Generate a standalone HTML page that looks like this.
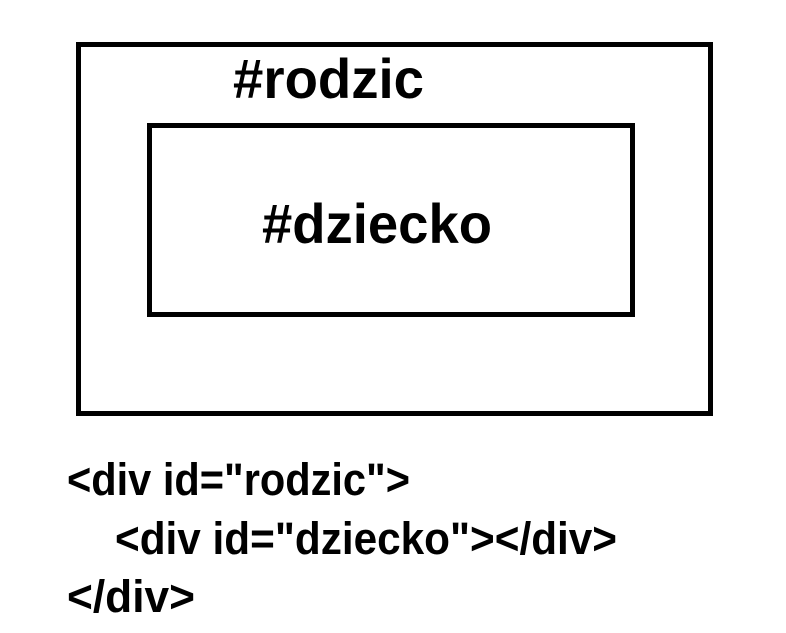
<!DOCTYPE html>
<html><head><meta charset="utf-8"><style>
html,body{margin:0;padding:0;background:#fff;width:786px;height:633px;overflow:hidden}
svg{display:block}
text{font-family:"Liberation Sans",sans-serif;font-weight:bold;fill:#000}
</style></head><body>
<svg width="786" height="633" viewBox="0 0 786 633">
<rect x="78.5" y="44.5" width="632" height="369" fill="none" stroke="#000" stroke-width="5"/>
<rect x="149.5" y="125.5" width="483" height="189" fill="none" stroke="#000" stroke-width="5"/>
<text x="233" y="98" font-size="56" textLength="191" lengthAdjust="spacingAndGlyphs">#rodzic</text>
<text x="262" y="243" font-size="56" textLength="230" lengthAdjust="spacingAndGlyphs">#dziecko</text>
<text x="67" y="495" font-size="45" textLength="343" lengthAdjust="spacingAndGlyphs">&lt;div id="rodzic"&gt;</text>
<text x="115" y="554" font-size="45" textLength="502" lengthAdjust="spacingAndGlyphs">&lt;div id="dziecko"&gt;&lt;/div&gt;</text>
<text x="67" y="612" font-size="45" textLength="128" lengthAdjust="spacingAndGlyphs">&lt;/div&gt;</text>
</svg>
</body></html>
